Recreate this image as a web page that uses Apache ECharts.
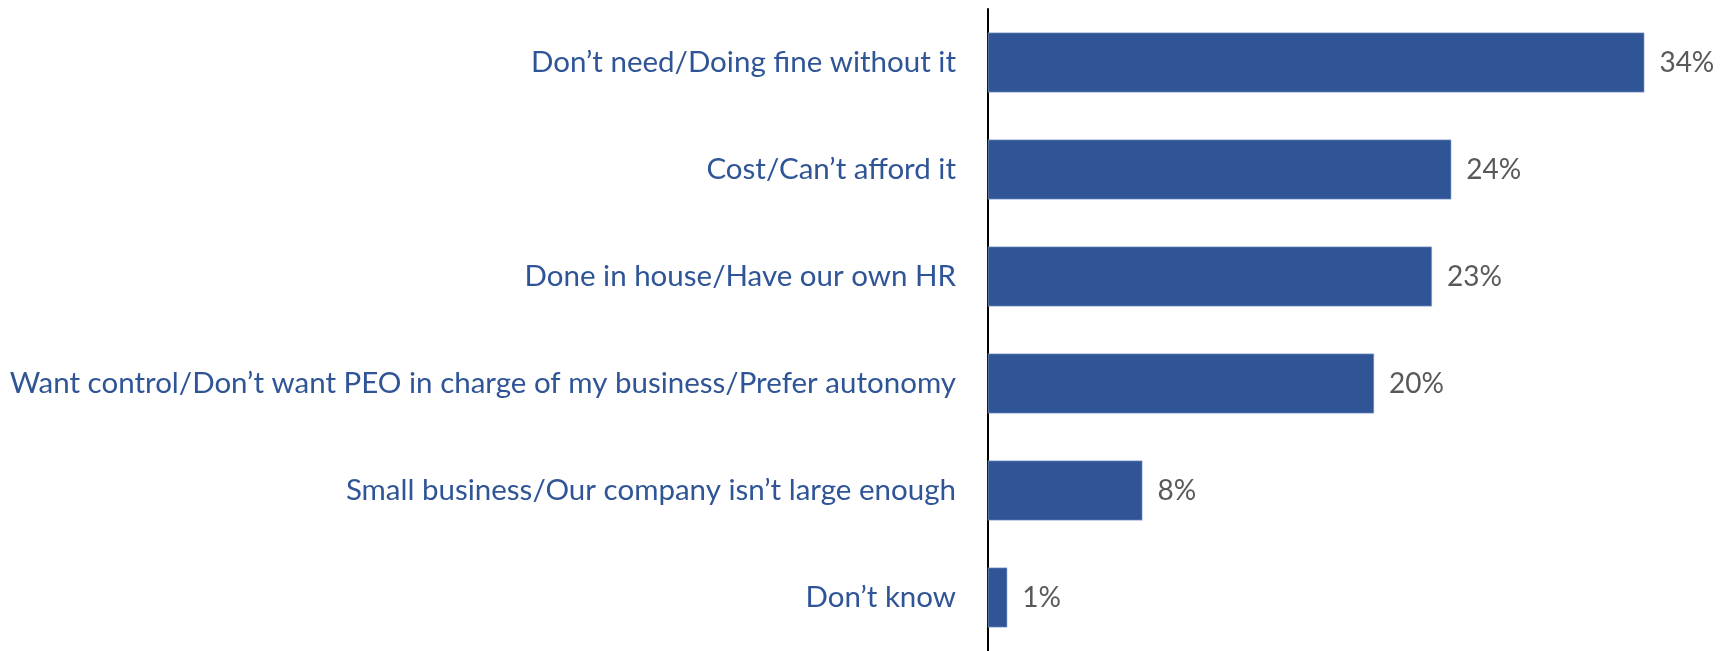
<!DOCTYPE html>
<html>
<head>
<meta charset="utf-8">
<script src="https://cdn.jsdelivr.net/npm/echarts@6/dist/echarts.min.js"></script>
<style>
  html, body { margin: 0; padding: 0; background: #ffffff; }
  #chart { width: 1721px; height: 651px; }
</style>
</head>
<body>
<div id="chart"></div>
<script>
// Reasons given for not using a PEO (share of respondents, %)
const categories = [
  "Don\u2019t need/Doing fine without it",
  "Cost/Can\u2019t afford it",
  "Done in house/Have our own HR",
  "Want control/Don\u2019t want PEO in charge of my business/Prefer autonomy",
  "Small business/Our company isn\u2019t large enough",
  "Don\u2019t know"
];
const shares = [34, 24, 23, 20, 8, 1];

const chart = echarts.init(document.getElementById('chart'), null, { renderer: 'canvas' });

chart.setOption({
  animation: false,
  backgroundColor: '#ffffff',
  grid: { left: 988, right: 38, top: 9, height: 646, containLabel: false },
  xAxis: {
    type: 'value',
    min: 0,
    max: 36,
    show: false
  },
  yAxis: {
    type: 'category',
    data: categories,
    inverse: true,
    axisLine: { show: true, lineStyle: { color: '#000000', width: 2 } },
    axisTick: { show: false },
    axisLabel: {
      margin: 32,
      color: '#2F5597',
      fontFamily: 'Lato',
      fontSize: 29.5
    }
  },
  series: [{
    type: 'bar',
    data: shares,
    barCategoryGap: '44%',
    itemStyle: { color: '#2F5597', borderColor: '#B4C7E7', borderWidth: 0.5 },
    label: {
      show: true,
      position: 'right',
      distance: 15,
      formatter: '{c}%',
      color: '#595959',
      fontFamily: 'Lato',
      fontSize: 28
    }
  }]
});
</script>
</body>
</html>
